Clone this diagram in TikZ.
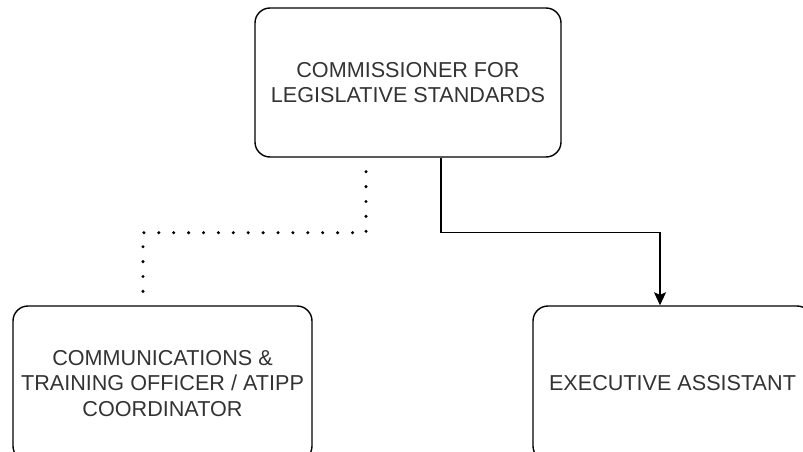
\documentclass[tikz,border=0pt]{standalone}
\usepackage{fontspec}
\setmainfont{Liberation Sans}
\usepackage{xcolor}
\usetikzlibrary{arrows.meta,positioning}
\definecolor{boxtext}{HTML}{333333}
\tikzstyle{post} = [draw=black, line width=1.4pt, rounded corners=15pt, align=center, text=boxtext, font=\fontsize{21.6}{25.5}\selectfont, inner sep=0pt]
\tikzstyle{arrow} = [line width=1.4pt, -{Stealth[length=13pt,width=12pt,inset=2.5pt]}]
\tikzstyle{dotline} = [line width=3.4pt, line cap=round, dash pattern=on 0pt off 14.9pt]

\begin{document}
\begin{tikzpicture}[x=1pt, y=-1pt]
                \useasboundingbox (0,0) rectangle (803,452);
                \clip (0,0) rectangle (803,452);
                \node [post, minimum width=306pt, minimum height=149pt] (head) at (408, 82.5) {COMMISSIONER FOR\\LEGISLATIVE STANDARDS};
                \node [post, minimum width=299pt, minimum height=155pt] (comm) at (162.5, 383.5) {COMMUNICATIONS \&\\TRAINING OFFICER / ATIPP\\COORDINATOR};
                \node [post, minimum width=279pt, minimum height=155pt] (exec) at (672.5, 383.5) {EXECUTIVE ASSISTANT};
                \draw [dotline] ([xshift=-42pt, yshift=-14pt]head.south) -- ++(0,61) -| ([xshift=-19.5pt]comm.north);
                \draw [arrow] ([xshift=33pt]head.south) -- ++(0,75) -| ([xshift=-12.5pt]exec.north);
            \end{tikzpicture}
\end{document}
